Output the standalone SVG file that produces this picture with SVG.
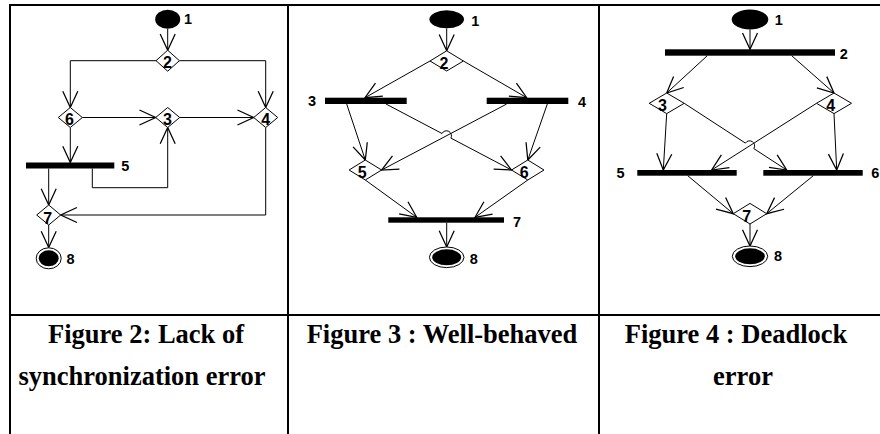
<svg xmlns="http://www.w3.org/2000/svg" width="880" height="434" viewBox="0 0 880 434">
  <defs>
    <marker id="arrow" markerUnits="userSpaceOnUse" markerWidth="20" markerHeight="20" viewBox="-14 -8 16 16" refX="0" refY="0" orient="auto">
      <path d="M -13 -6 L 0 0 L -13 6" fill="none" stroke="#000" stroke-width="1"/>
    </marker>
  </defs>
  <style>
    .grid { stroke: #000; stroke-width: 2; fill: none; }
    .edge { stroke: #000; stroke-width: 1; fill: none; marker-end: url(#arrow); }
    .dia { fill: #fff; stroke: #000; stroke-width: 1; }
    .bar { fill: #000; }
    .start { fill: #000; }
    .ring { fill: #fff; stroke: #000; stroke-width: 1; }
    .lbl { font-family: "Liberation Sans", Arial, sans-serif; font-weight: bold; font-size: 14.5px; fill: #000; }
    .in { font-family: "Liberation Sans", Arial, sans-serif; font-weight: bold; font-size: 16px; fill: #000; }
    .cap { font-family: "Liberation Serif", "Times New Roman", serif; font-weight: bold; font-size: 26.5px; fill: #000; text-anchor: middle; }
  </style>
  <rect width="880" height="434" fill="#fff"/>

  <!-- table frame -->
  <g id="table">
    <line class="grid" x1="9" y1="5" x2="880" y2="5"/>
    <line class="grid" x1="10" y1="4" x2="10" y2="434"/>
    <line class="grid" x1="288" y1="4" x2="288" y2="434"/>
    <line class="grid" x1="599" y1="4" x2="599" y2="434"/>
    <line class="grid" x1="9" y1="315" x2="880" y2="315"/>
  </g>

  <!-- connectors -->
  <g id="connectors">
    <!-- figure 2 -->
    <path class="edge" d="M167.7 28.8 L167.7 50.2"/>
    <path class="edge" d="M156 60.7 L70.3 60.7 L70.3 107.5"/>
    <path class="edge" d="M179.4 60.7 L265.7 60.7 L265.7 107.5"/>
    <path class="edge" d="M82.3 117.5 L155.7 117.5"/>
    <path class="edge" d="M179.7 117.5 L253.7 117.5"/>
    <path class="edge" d="M70.3 127.5 L70.3 162.5"/>
    <path class="edge" d="M92.3 168.5 L92.3 187.7 L167.7 187.7 L167.7 127.5"/>
    <path class="edge" d="M48.7 168.5 L48.7 205"/>
    <path class="edge" d="M265.7 127.5 L265.7 215 L60.7 215"/>
    <path class="edge" d="M48.7 225 L48.7 247.6"/>
    <!-- figure 3 -->
    <path class="edge" d="M446.7 28.3 L446.7 50.8"/>
    <path class="edge" d="M430 61 L365 97.7"/>
    <path class="edge" d="M463.4 61 L526.7 97.7"/>
    <path class="edge" d="M346.7 104 L365.3 160"/>
    <path class="edge" d="M386 104 L442 133.5 A5 5 0 0 1 450.9 138.1 L511.5 170"/>
    <path class="edge" d="M506.7 104 L381.6 170"/>
    <path class="edge" d="M547.3 104 L527.8 160"/>
    <path class="edge" d="M365.3 180 L416.7 217.3"/>
    <path class="edge" d="M527.8 180 L475 217.3"/>
    <path class="edge" d="M446.7 222.7 L446.7 247"/>
    <!-- figure 4 -->
    <path class="edge" d="M750 29.5 L750 49.3"/>
    <path class="edge" d="M707.3 55.7 L666.7 93"/>
    <path class="edge" d="M791.7 55.7 L834 93"/>
    <path class="edge" d="M666.7 113.6 L663.3 170"/>
    <path class="edge" d="M684.2 103.3 L745.4 143.1 A5 5 0 0 1 753.8 148.6 L786.7 170"/>
    <path class="edge" d="M816.5 103.3 L711.7 170"/>
    <path class="edge" d="M834 113.6 L836.7 170"/>
    <path class="edge" d="M687.7 175.7 L733.3 213.7"/>
    <path class="edge" d="M813.3 175.7 L766.7 213.7"/>
    <path class="edge" d="M750 224 L750 246"/>
  </g>

  <!-- figure 2: lack of synchronization error -->
  <g id="f2-n1"><ellipse class="start" cx="167.7" cy="19.3" rx="12.5" ry="9.5"/><text class="lbl" x="184" y="24">1</text></g>
  <g id="f2-n2"><polygon class="dia" points="167.7,50.2 179.4,60.7 167.7,71.2 156,60.7"/><text class="in" x="163" y="68">2</text></g>
  <g id="f2-n6"><polygon class="dia" points="70.3,107.5 82.3,117.5 70.3,127.5 58.3,117.5"/><text class="in" x="65" y="124.5">6</text></g>
  <g id="f2-n3"><polygon class="dia" points="167.7,107.5 179.7,117.5 167.7,127.5 155.7,117.5"/><text class="in" x="163" y="125">3</text></g>
  <g id="f2-n4"><polygon class="dia" points="265.7,107.5 277.7,117.5 265.7,127.5 253.7,117.5"/><text class="in" x="261.3" y="125">4</text></g>
  <g id="f2-n5"><rect class="bar" x="26" y="162.5" width="88.3" height="6"/><text class="lbl" x="121.3" y="171">5</text></g>
  <g id="f2-n7"><polygon class="dia" points="48.7,205 60.7,215 48.7,225 36.7,215"/><text class="in" x="43.3" y="223.5">7</text></g>
  <g id="f2-n8"><ellipse class="ring" cx="48.7" cy="258.3" rx="12.5" ry="10.5"/><ellipse class="start" cx="48.7" cy="258.3" rx="10" ry="8"/><text class="lbl" x="66.5" y="263.5">8</text></g>

  <!-- figure 3: well-behaved -->
  <g id="f3-n1"><ellipse class="start" cx="446.7" cy="19.3" rx="17.3" ry="9"/><text class="lbl" x="471.3" y="25.5">1</text></g>
  <g id="f3-n2"><polygon class="dia" points="446.7,50.8 463.4,61 446.7,71 430,61"/><text class="in" x="439.5" y="68.5">2</text></g>
  <g id="f3-n3"><rect class="bar" x="325" y="97.7" width="81.7" height="6.3"/><text class="lbl" x="308" y="106">3</text></g>
  <g id="f3-n4"><rect class="bar" x="486.7" y="97.7" width="81.6" height="6.3"/><text class="lbl" x="578" y="106.5">4</text></g>
  <g id="f3-n5"><polygon class="dia" points="365.3,160 381.6,170 365.3,180 349.1,170"/><text class="in" x="357.8" y="177.5">5</text></g>
  <g id="f3-n6"><polygon class="dia" points="527.8,160 544,170 527.8,180 511.5,170"/><text class="in" x="519.8" y="177.5">6</text></g>
  <g id="f3-n7"><rect class="bar" x="388.3" y="217.3" width="115.7" height="5.4"/><text class="lbl" x="513" y="227.3">7</text></g>
  <g id="f3-n8"><ellipse class="ring" cx="446.7" cy="257.3" rx="17.3" ry="10.3"/><ellipse class="start" cx="446.7" cy="257.3" rx="14.5" ry="8"/><text class="lbl" x="469.7" y="264">8</text></g>

  <!-- figure 4: deadlock error -->
  <g id="f4-n1"><ellipse class="start" cx="750" cy="19.5" rx="18.3" ry="10"/><text class="lbl" x="774.7" y="25">1</text></g>
  <g id="f4-n2"><rect class="bar" x="665" y="49.3" width="170" height="6.4"/><text class="lbl" x="839.7" y="58.5">2</text></g>
  <g id="f4-n3"><polygon class="dia" points="666.7,93 684.2,103.3 666.7,113.6 649.2,103.3"/><text class="in" x="658" y="110.5">3</text></g>
  <g id="f4-n4"><polygon class="dia" points="834,93 851.5,103.3 834,113.6 816.5,103.3"/><text class="in" x="826.3" y="110.5">4</text></g>
  <g id="f4-n5"><rect class="bar" x="637.3" y="170" width="99.4" height="5.7"/><text class="lbl" x="616.5" y="178.3">5</text></g>
  <g id="f4-n6"><rect class="bar" x="763.3" y="170" width="99.4" height="5.7"/><text class="lbl" x="871.3" y="178.3">6</text></g>
  <g id="f4-n7"><polygon class="dia" points="750,203.4 766.7,213.7 750,224 733.3,213.7"/><text class="in" x="742.3" y="222">7</text></g>
  <g id="f4-n8"><ellipse class="ring" cx="750" cy="256.3" rx="17.7" ry="10.3"/><ellipse class="start" cx="750" cy="256.3" rx="14.8" ry="8"/><text class="lbl" x="774" y="261">8</text></g>

  <!-- captions -->
  <g id="captions">
    <text class="cap" x="146" y="343">Figure 2: Lack of</text>
    <text class="cap" x="142" y="385">synchronization error</text>
    <text class="cap" x="442" y="343">Figure 3 : Well-behaved</text>
    <text class="cap" x="736" y="343">Figure 4 : Deadlock</text>
    <text class="cap" x="743" y="385">error</text>
  </g>
</svg>
